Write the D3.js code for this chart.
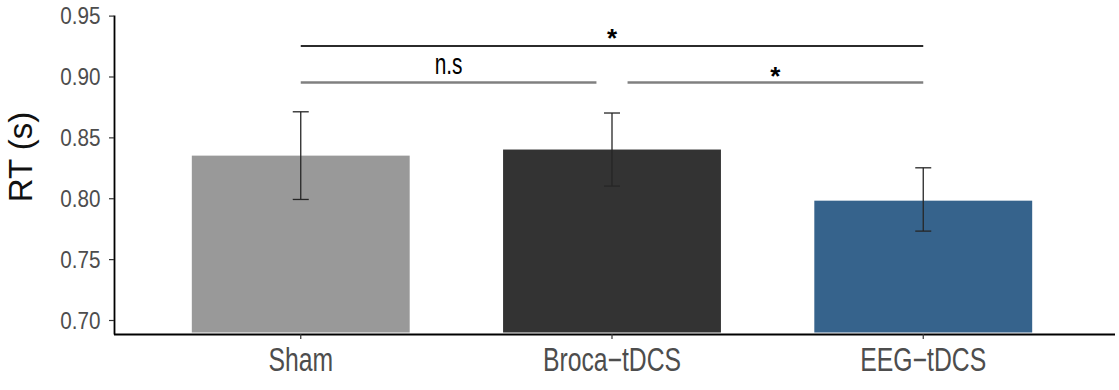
<!DOCTYPE html>
<html><head><meta charset="utf-8">
<script src="https://cdn.jsdelivr.net/npm/d3@7"></script>
<style>body{margin:0;background:#fff}svg{display:block}</style>
</head><body>
<svg id="chart" width="1119" height="390"></svg>
<script>
// ---- data ----
const categories = ["Sham", "Broca\u2212tDCS", "EEG\u2212tDCS"];
const meanRT = [0.835, 0.840, 0.798];
const lowerRT = [0.799, 0.810, 0.773];
const upperRT = [0.871, 0.870, 0.825];
const barColors = ["#999999", "#333333", "#36638c"];
const yTicks = [0.70, 0.75, 0.80, 0.85, 0.90, 0.95];
const yTitle = "RT (s)";
const compFrom = [0, 0, 1];
const compTo = [2, 1, 2];
const compLevel = [0.925, 0.895, 0.895];
const compLabel = ["*", "n.s", "*"];

// ---- drawing ----
const svg = d3.select("#chart");
const FONT = "'Liberation Sans', Arial, sans-serif";

const x = d3.scaleBand().domain(categories).range([114, 1110])
  .paddingInner(0.3).paddingOuter(0.25);
const y = d3.scaleLinear().domain([0.6885, 0.9505]).range([334, 15]);
const step = x.step();
const cx = i => x(categories[i]) + x.bandwidth() / 2;

// bars
svg.append("g").selectAll("rect").data(categories).join("rect")
  .attr("x", d => x(d))
  .attr("width", x.bandwidth())
  .attr("y", (d, i) => y(meanRT[i]))
  .attr("height", (d, i) => y.range()[0] - 1.5 - y(meanRT[i]))
  .attr("fill", (d, i) => barColors[i]);

// error bars
const eb = svg.append("g").attr("stroke", "#262626").attr("stroke-width", 1.3).attr("fill", "none");
categories.forEach((d, i) => {
  const c = cx(i);
  eb.append("line").attr("x1", c).attr("x2", c).attr("y1", y(upperRT[i])).attr("y2", y(lowerRT[i]));
  eb.append("line").attr("x1", c - 8).attr("x2", c + 8).attr("y1", y(upperRT[i])).attr("y2", y(upperRT[i]));
  eb.append("line").attr("x1", c - 8).attr("x2", c + 8).attr("y1", y(lowerRT[i])).attr("y2", y(lowerRT[i]));
});

// y axis
const ya = svg.append("g").attr("transform", "translate(114,0)")
  .call(d3.axisLeft(y).tickValues(yTicks).tickFormat(d3.format(".2f")).tickSize(5).tickSizeOuter(0).tickPadding(8));
ya.select(".domain").attr("stroke", "#000").attr("stroke-width", 1.8);
ya.selectAll(".tick line").attr("stroke", "#333").attr("stroke-width", 1.2);
ya.selectAll(".tick text").attr("font-family", FONT).attr("font-size", 23.5)
  .attr("fill", "#4d4d4d").attr("dy", "0.35em")
  .attr("x", -13.5 / 0.88).attr("transform", "scale(0.88,1)");

// x axis
const xa = svg.append("g").attr("transform", "translate(0,334)")
  .call(d3.axisBottom(x).tickSize(5).tickSizeOuter(0).tickPadding(8));
xa.select(".domain").attr("stroke", "#000").attr("stroke-width", 1.8)
  .attr("d", "M114,0.5H1115");
xa.selectAll(".tick line").attr("stroke", "#333").attr("stroke-width", 1.2);
xa.selectAll(".tick text").attr("font-family", FONT).attr("font-size", 33)
  .attr("fill", "#4d4d4d").attr("y", 37.5).attr("dy", 0)
  .attr("transform", "scale(0.75,1)");

// y title
svg.append("text").attr("transform", "translate(31.5,157) rotate(-90)")
  .attr("text-anchor", "middle").attr("font-family", FONT).attr("font-size", 33)
  .attr("fill", "#111").text(yTitle);

// significance brackets
compLabel.forEach((lab, k) => {
  const top = k === 0;
  let x1 = cx(compFrom[k]), x2 = cx(compTo[k]);
  if (!top) {
    if (compTo[k] === 1) x2 -= 0.05 * step; else x1 += 0.05 * step;
  }
  const ly = y(compLevel[k]);
  svg.append("line").attr("x1", x1).attr("x2", x2).attr("y1", ly).attr("y2", ly)
    .attr("stroke", top ? "#2b2b2b" : "#808080").attr("stroke-width", top ? 2 : 2.4);
  const mx = (x1 + x2) / 2;
  if (lab === "*") {
    svg.append("text").attr("x", mx).attr("y", ly + (top ? 1 : 2.5))
      .attr("text-anchor", "middle").attr("font-family", FONT).attr("font-weight", "bold")
      .attr("font-size", 26).attr("fill", "#000").text(lab);
  } else {
    svg.append("text").attr("transform", `translate(${mx},${ly - 9}) scale(0.72,1)`)
      .attr("text-anchor", "middle").attr("font-family", FONT)
      .attr("font-size", 29).attr("fill", "#000").text(lab);
  }
});
</script>
</body></html>
